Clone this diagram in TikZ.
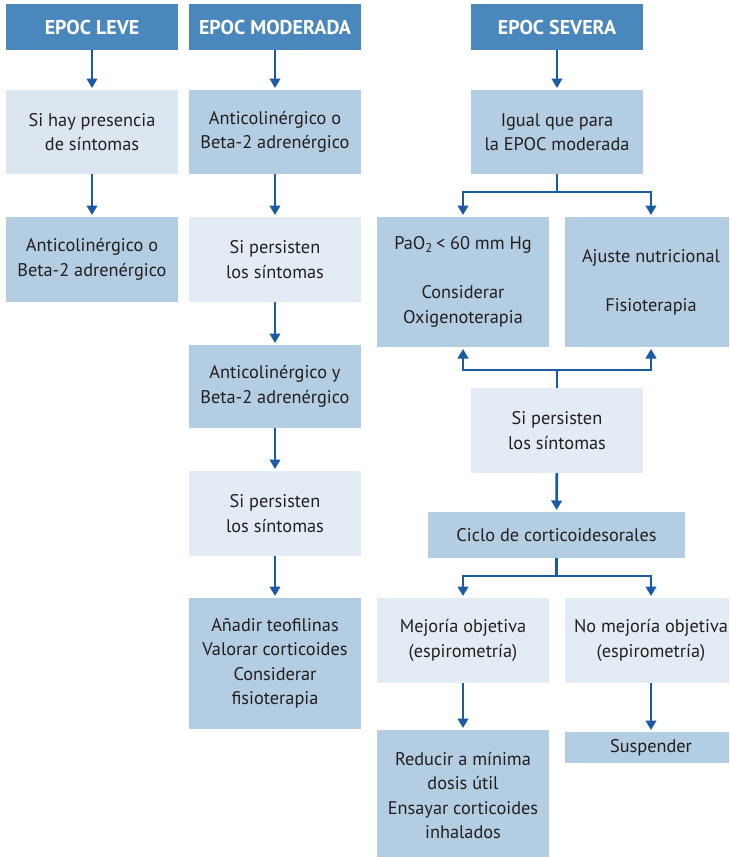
\documentclass[tikz,border=0pt]{standalone}
\usepackage{fontspec}
\setmainfont{PT Sans}
\usepackage{xcolor}
\usetikzlibrary{arrows.meta}

\definecolor{cabecera}{HTML}{4A87BD}
\definecolor{caja}{HTML}{B3CDE3}
\definecolor{cajaclara}{HTML}{E3EBF4}
\definecolor{cajagris}{HTML}{DCE6F1}
\definecolor{flecha}{HTML}{1B5AA5}
\definecolor{texto}{HTML}{231F20}

\tikzset{
  caja/.style={anchor=north west, minimum width=172pt, inner sep=0pt, outer sep=0pt,
    align=center, text=texto, font=\fontsize{18.3}{24.5}\selectfont},
  oscura/.style={caja, fill=caja},
  clara/.style={caja, fill=cajaclara},
  titulo/.style={caja, fill=cabecera, text=white, minimum height=46pt,
    font=\bfseries\fontsize{20}{22}\selectfont},
  flujo/.style={draw=flecha, line width=2.6pt, shorten >=2pt,
    -{Triangle[width=10.5pt,length=9.5pt]}},
}

\begin{document}
\begin{tikzpicture}[x=1pt,y=-1pt]
\clip (0,0) rectangle (729,857);
\fill[white] (0,0) rectangle (729,857);
% EPOC leve
\node[titulo] (leve) at (6,4) {EPOC LEVE};
\node[clara,fill=cajagris,minimum height=84pt] (leveSint) at (6,90) {Si hay presencia\\de síntomas};
\node[oscura,minimum height=85pt] (leveTrat) at (6,217) {Anticolinérgico o\\Beta-2 adrenérgico};
\draw[flujo] (leve) -- (leveSint);
\draw[flujo] (leveSint) -- (leveTrat);
% EPOC moderada
\node[titulo] (moderada) at (189,4) {EPOC MODERADA};
\node[oscura,minimum height=84pt] (modTrat) at (189,90) {Anticolinérgico o\\Beta-2 adrenérgico};
\node[clara,minimum height=85pt] (modPers) at (189,217) {Si persisten\\los síntomas};
\node[oscura,minimum height=83pt] (modDoble) at (189,345) {Anticolinérgico y\\Beta-2 adrenérgico};
\node[clara,minimum height=85pt] (modPersB) at (189,471) {Si persisten\\los síntomas};
\node[oscura,minimum height=131pt] (modTeof) at (189,598) {Añadir teofilinas\\Valorar corticoides\\Considerar\\fisioterapia};
\draw[flujo] (moderada) -- (modTrat);
\draw[flujo] (modTrat) -- (modPers);
\draw[flujo] (modPers) -- (modDoble);
\draw[flujo] (modDoble) -- (modPersB);
\draw[flujo] (modPersB) -- (modTeof);
% EPOC severa
\node[titulo] (severa) at (471,4) {EPOC SEVERA};
\node[oscura,minimum height=84pt] (sevIgual) at (471,90) {Igual que para\\la EPOC moderada};
\node[oscura,minimum height=130pt] (sevOxig) at (377,217) {PaO\textsubscript{2}\,< 60 mm Hg\\[24.5pt]Considerar\\Oxigenoterapia};
\node[oscura,minimum height=130pt] (sevAjuste) at (565,217) {Ajuste nutricional\\[24.5pt]Fisioterapia};
\node[clara,minimum height=85pt] (sevPers) at (471,388) {Si persisten\\los síntomas};
\node[oscura,minimum width=257pt,minimum height=46pt] (sevCiclo) at (428,512) {Ciclo de corticoidesorales};
\node[clara,minimum height=85pt] (sevMejora) at (377,598) {Mejoría objetiva\\(espirometría)};
\node[clara,minimum height=85pt] (sevNoMejora) at (565,598) {No mejoría objetiva\\(espirometría)};
\node[oscura,minimum height=131pt] (sevReducir) at (377,730) {Reducir a mínima\\dosis útil\\Ensayar corticoides\\inhalados};
\node[oscura,minimum height=31pt] (sevSuspender) at (565,732) {Suspender};
\draw[flujo] (severa) -- (sevIgual);
\draw[flujo] (sevIgual.south) -- ++(0,18) -| (sevOxig.north);
\draw[flujo] (sevIgual.south) -- ++(0,18) -| (sevAjuste.north);
\draw[flujo] (sevPers.north) -- ++(0,-18) -| (sevOxig.south);
\draw[flujo] (sevPers.north) -- ++(0,-18) -| (sevAjuste.south);
\draw[flujo] (sevPers) -- (sevCiclo);
\draw[flujo] (sevCiclo.south) -- ++(0,18) -| (sevMejora.north);
\draw[flujo] (sevCiclo.south) -- ++(0,18) -| (sevNoMejora.north);
\draw[flujo] (sevMejora) -- (sevReducir);
\draw[flujo] (sevNoMejora) -- (sevSuspender);
\end{tikzpicture}
\end{document}
